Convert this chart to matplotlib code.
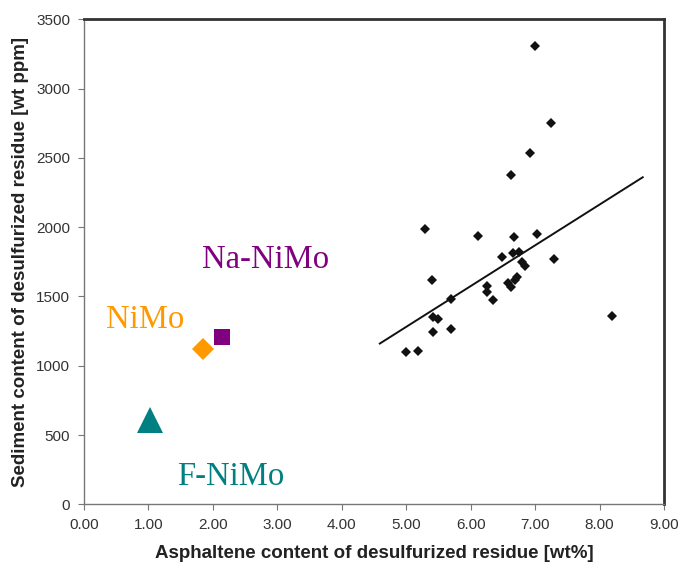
"""Sediment vs asphaltene content of desulfurized residue, with catalyst points."""
import matplotlib
matplotlib.use("Agg")
import matplotlib.pyplot as plt

# commercial residue data (asphaltene wt%, sediment wt ppm)
asph = [7.00, 7.25, 6.92, 6.63, 5.29, 6.11, 6.67, 7.03, 6.49, 6.65, 6.75,
        6.79, 6.84, 7.29, 5.40, 5.69, 6.26, 6.25, 6.34, 6.58, 6.63, 6.69,
        6.72, 5.42, 5.49, 5.42, 5.69, 5.00, 5.18, 8.19]
sediment = [3305, 2754, 2537, 2374, 1989, 1938, 1927, 1948, 1782, 1811, 1818,
            1751, 1722, 1772, 1619, 1484, 1574, 1532, 1472, 1600, 1566, 1619,
            1638, 1350, 1337, 1243, 1265, 1097, 1106, 1357]

# trend line end points
trend_x = [4.59, 8.67]
trend_y = [1160, 2360]

# catalysts
cat_names = ["NiMo", "Na-NiMo", "F-NiMo"]
cat_x = [1.84, 2.14, 1.02]
cat_y = [1118, 1207, 607]
cat_markers = ["D", "s", "^"]
cat_sizes = [11.5, 11.5, 19]
cat_colors = ["#FF9900", "#800080", "#008080"]
label_xy = [(0.95, 1330), (2.81, 1763), (2.28, 197)]

xticks = [0, 1, 2, 3, 4, 5, 6, 7, 8, 9]
yticks = [0, 500, 1000, 1500, 2000, 2500, 3000, 3500]

fig = plt.figure(figsize=(6.8, 5.68), dpi=100)
ax = fig.add_axes([0.1235, 0.1121, 0.853, 0.854])

ax.plot(asph, sediment, linestyle="none", marker="D", markersize=5.2,
        color="#111111", markeredgewidth=0)
ax.plot(trend_x, trend_y, color="#111111", linewidth=1.4)

for name, x, y, m, s, c, (lx, ly) in zip(cat_names, cat_x, cat_y, cat_markers,
                                         cat_sizes, cat_colors, label_xy):
    ax.plot([x], [y], linestyle="none", marker=m, markersize=s, color=c,
            markeredgewidth=0)
    ax.text(lx, ly, name, color=c, fontsize=23.5, family="Liberation Serif",
            ha="center", va="center")

ax.set_xlim(0, 9)
ax.set_ylim(0, 3500)
ax.set_xticks(xticks)
ax.set_xticklabels([f"{t:.2f}" for t in xticks])
ax.set_yticks(yticks)

for side in ("left", "bottom"):
    ax.spines[side].set_color("#777777")
    ax.spines[side].set_linewidth(1.0)
for side in ("top", "right"):
    ax.spines[side].set_color("#333333")
    ax.spines[side].set_linewidth(2.0)

ax.tick_params(axis="both", direction="out", length=4, width=0.8,
               color="#777777", labelsize=11, labelcolor="#333333", pad=6)
for lab in ax.get_xticklabels() + ax.get_yticklabels():
    lab.set_family("Liberation Sans")

ax.set_xlabel("Asphaltene content of desulfurized residue [wt%]",
              family="Liberation Sans", fontweight="bold", fontsize=13.5,
              color="#222222", labelpad=9)
ax.set_ylabel("Sediment content of desulfurized residue [wt ppm]",
              family="Liberation Sans", fontweight="bold", fontsize=13.5,
              color="#222222", labelpad=5)

fig.savefig("out.png", dpi=100)
